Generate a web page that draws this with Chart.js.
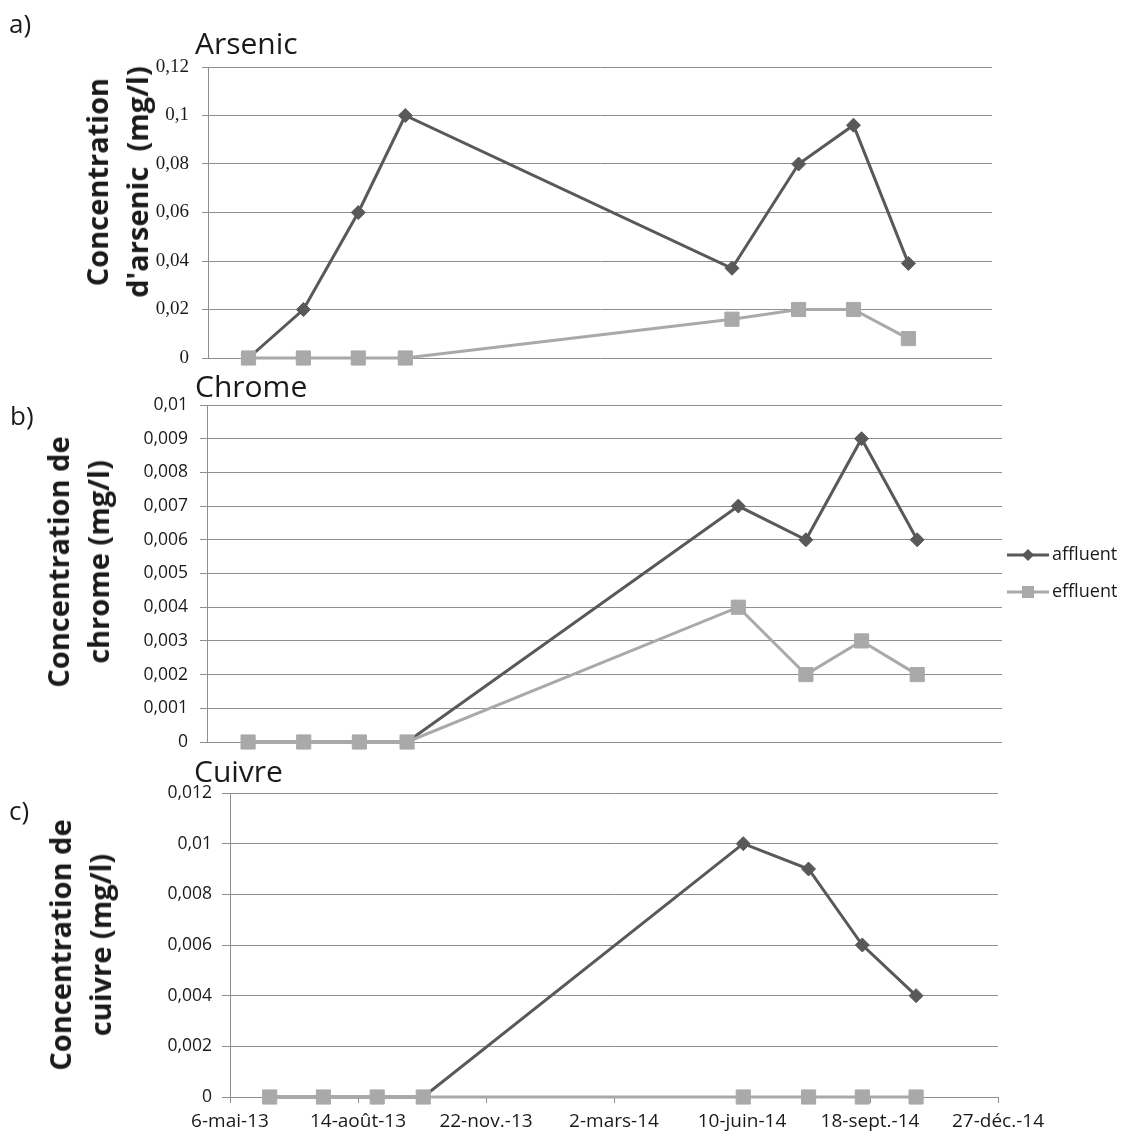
<!DOCTYPE html>
<html><head><meta charset="utf-8">
<script src="https://cdn.jsdelivr.net/npm/chart.js@4.4.0/dist/chart.umd.min.js"></script>
<style>
html,body{margin:0;padding:0;background:#fff;}
#wrap{position:relative;width:1125px;height:1139px;overflow:hidden;background:#fff;font-family:'Open Sans',sans-serif;color:#1a1a1a;}
canvas{position:absolute;left:0;}
.lbl{position:absolute;font-size:26px;line-height:26px;}
.ttl{position:absolute;font-size:30px;line-height:30px;white-space:nowrap;}
.ytitle{position:absolute;font-weight:bold;font-size:29px;line-height:40px;text-align:center;white-space:nowrap;transform:translate(-50%,-50%) rotate(-90deg);}
</style></head>
<body><div id="wrap">
<canvas id="cA" width="1125" height="385" style="top:0px"></canvas>
<canvas id="cB" width="1125" height="395" style="top:370px"></canvas>
<canvas id="cC" width="1125" height="374" style="top:765px"></canvas>
<div class="lbl" style="left:9px;top:10px">a)</div>
<div class="lbl" style="left:10px;top:402px">b)</div>
<div class="lbl" style="left:9px;top:797px">c)</div>
<div class="ttl" style="left:195px;top:28px">Arsenic</div>
<div class="ttl" style="left:195px;top:371px">Chrome</div>
<div class="ttl" style="left:194px;top:756px">Cuivre</div>
<div class="ytitle" style="left:117px;top:182px">Concentration<br>d'arsenic&nbsp; (mg/l)</div>
<div class="ytitle" style="left:78px;top:562px">Concentration de<br>chrome (mg/l)</div>
<div class="ytitle" style="left:80px;top:945px">Concentration de<br>cuivre (mg/l)</div>
</div>
<script>
// ---- data ----
const seriesNames = ['affluent', 'effluent'];
const sampleDates = ['2013-06-06','2013-07-18','2013-08-29','2013-10-04','2014-06-11','2014-08-01','2014-09-12','2014-10-24'];
const arsenicAffluent = [0, 0.02, 0.06, 0.1, 0.037, 0.08, 0.096, 0.039];
const arsenicEffluent = [0, 0, 0, 0, 0.016, 0.02, 0.02, 0.008];
const chromeAffluent = [0, 0, 0, 0, 0.007, 0.006, 0.009, 0.006];
const chromeEffluent = [0, 0, 0, 0, 0.004, 0.002, 0.003, 0.002];
const cuivreAffluent = [0, 0, 0, 0, 0.01, 0.009, 0.006, 0.004];
const cuivreEffluent = [0, 0, 0, 0, 0, 0, 0, 0];
const xTickLabels = ['6-mai-13','14-août-13','22-nov.-13','2-mars-14','10-juin-14','18-sept.-14','27-déc.-14'];
const xTickDates = ['2013-05-06','2013-08-14','2013-11-22','2014-03-02','2014-06-10','2014-09-18','2014-12-27'];
const arsenicTicks = ['0','0,02','0,04','0,06','0,08','0,1','0,12'];
const chromeTicks = ['0','0,001','0,002','0,003','0,004','0,005','0,006','0,007','0,008','0,009','0,01'];
const cuivreTicks = ['0','0,002','0,004','0,006','0,008','0,01','0,012'];

// ---- helpers ----
function dayOf(s){const p=s.split('-').map(Number);return Math.round((Date.UTC(p[0],p[1]-1,p[2])-Date.UTC(2013,4,6))/864e5);}
const xDays = sampleDates.map(dayOf);
const xTickDays = xTickDates.map(dayOf);
const xMin = xTickDays[0], xMax = xTickDays[xTickDays.length-1];
const AFF = '#595959', EFF = '#a9a9a9', GRID = '#8e8e8e';

function pts(vals){return vals.map((v,i)=>({x:xDays[i],y:v}));}

const legendPlugin = {
  id:'sideLegend',
  afterDraw(chart){
    const ctx = chart.ctx;
    const items = [{name:seriesNames[0],c:AFF,y:185,shape:'diamond'},{name:seriesNames[1],c:EFF,y:222,shape:'square'}];
    ctx.save();
    items.forEach(it=>{
      ctx.strokeStyle = it.c; ctx.lineWidth = 3;
      ctx.beginPath(); ctx.moveTo(1007,it.y); ctx.lineTo(1049,it.y); ctx.stroke();
      ctx.fillStyle = it.c;
      ctx.beginPath();
      if(it.shape==='diamond'){ctx.moveTo(1028,it.y-6);ctx.lineTo(1034,it.y);ctx.lineTo(1028,it.y+6);ctx.lineTo(1022,it.y);ctx.closePath();}
      else {ctx.rect(1022,it.y-6,12,12);}
      ctx.fill();
      ctx.fillStyle = '#1a1a1a'; ctx.font = '18px "Open Sans"'; ctx.textBaseline = 'middle'; ctx.textAlign='left';
      ctx.fillText(it.name, 1052, it.y);
    });
    ctx.restore();
  }
};

function makePanel(id, o){
  const cfg = {
    type:'line',
    data:{datasets:[
      {label:seriesNames[0],data:pts(o.aff),borderColor:AFF,backgroundColor:AFF,borderWidth:3,pointStyle:'rectRot',pointRadius:7,pointBorderWidth:1,pointBackgroundColor:AFF,pointBorderColor:AFF,clip:false,order:1,tension:0},
      {label:seriesNames[1],data:pts(o.eff),borderColor:EFF,backgroundColor:EFF,borderWidth:3,pointStyle:'rect',pointRadius:10,pointBorderWidth:1,pointBackgroundColor:EFF,pointBorderColor:EFF,clip:false,order:0,tension:0}
    ]},
    options:{
      responsive:false, animation:false, devicePixelRatio:1,
      layout:{padding:o.pad},
      plugins:{legend:{display:false},tooltip:{enabled:false},title:{display:false}},
      scales:{
        x:{type:'linear',min:xMin,max:xMax,display:o.showX,
           afterBuildTicks(s){s.ticks = xTickDays.map(v=>({value:v}));},
           afterFit(s){ if(o.showX) s.height = o.xHeight; },
           grid:{drawOnChartArea:false,drawTicks:true,tickLength:6,color:GRID,lineWidth:1},
           border:{display:true,color:GRID,width:1},
           ticks:{autoSkip:false,maxRotation:0,minRotation:0,padding:7,color:'#1a1a1a',font:{family:'Open Sans',size:19},
             callback(v){const i=xTickDays.indexOf(v);return i>=0?xTickLabels[i]:'';}}
        },
        y:{type:'linear',min:0,max:o.yMax,
           afterFit(s){s.width = o.yWidth;},
           grid:{color:GRID,lineWidth:1,drawTicks:true,tickLength:o.tl},
           border:{display:true,color:GRID,width:1},
           ticks:{stepSize:o.yStep,padding:o.tp,color:'#1a1a1a',font:o.font,
             callback(v){return o.labels[Math.round(v/o.yStep)];}}
        }
      }
    },
    plugins:o.legend?[legendPlugin]:[]
  };
  return new Chart(document.getElementById(id), cfg);
}

makePanel('cA',{aff:arsenicAffluent,eff:arsenicEffluent,yMax:0.12,yStep:0.02,labels:arsenicTicks,
  font:{family:'Liberation Serif',size:19},tl:6,tp:13,yWidth:208,pad:{top:67,right:133,bottom:27,left:0},showX:false});
makePanel('cB',{aff:chromeAffluent,eff:chromeEffluent,yMax:0.01,yStep:0.001,labels:chromeTicks,
  font:{family:'Open Sans',size:17.5},tl:7,tp:12,yWidth:207,pad:{top:35,right:123,bottom:23,left:0},showX:false,legend:true});
makePanel('cC',{aff:cuivreAffluent,eff:cuivreEffluent,yMax:0.012,yStep:0.002,labels:cuivreTicks,
  font:{family:'Open Sans',size:17.5},tl:8,tp:10,yWidth:230,pad:{top:28,right:127,bottom:0,left:0},showX:true,xHeight:42});
</script>
</body></html>
